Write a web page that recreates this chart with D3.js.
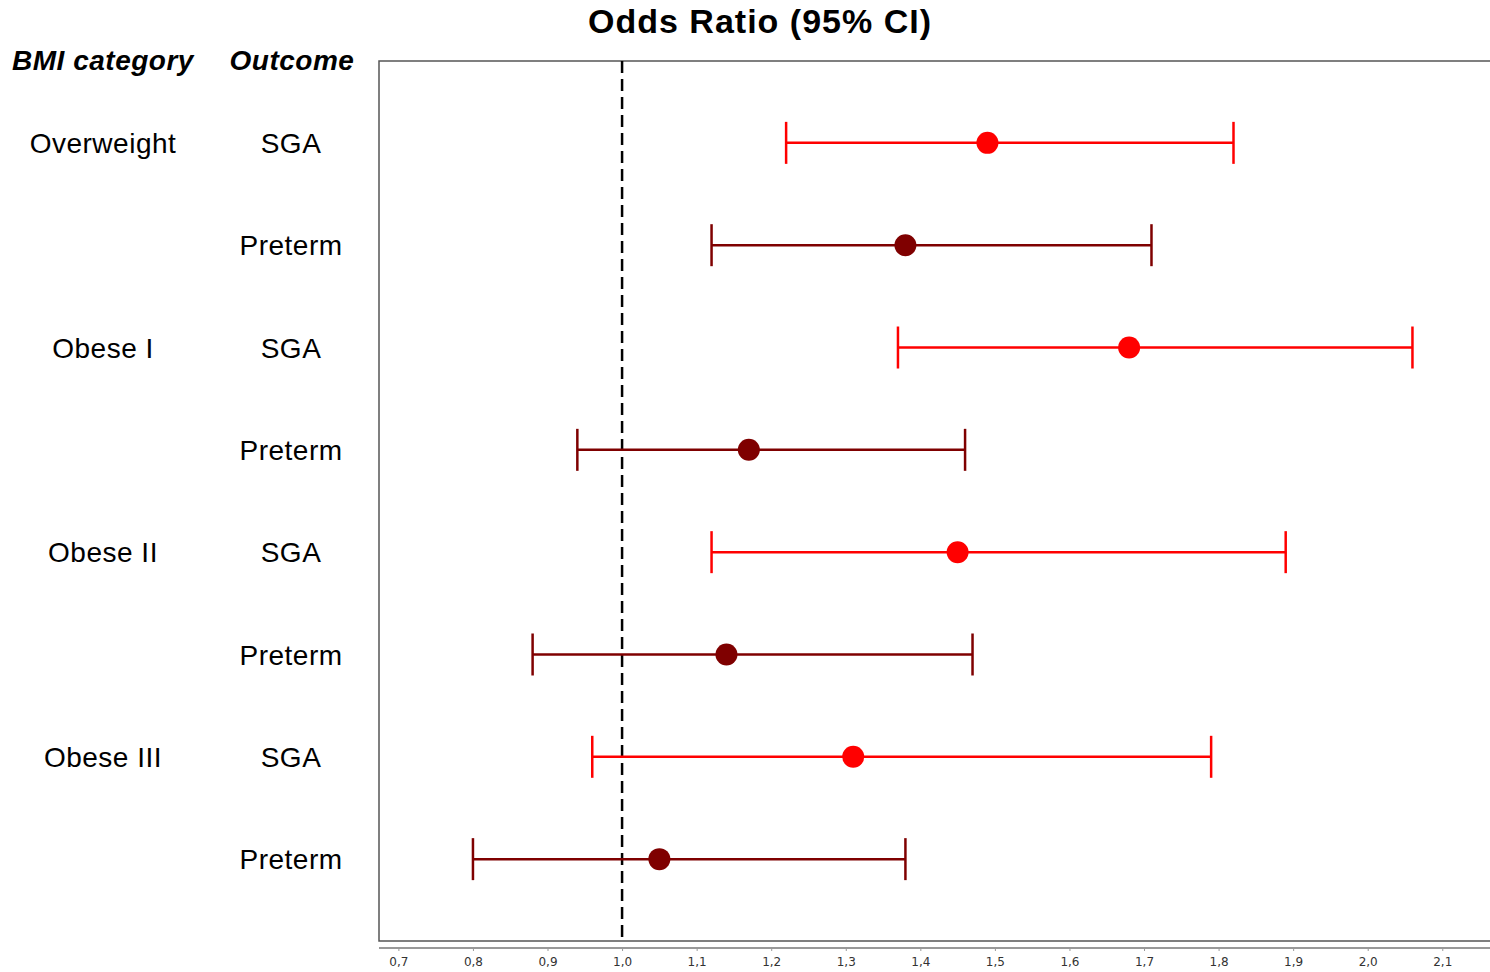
<!DOCTYPE html>
<html>
<head>
<meta charset="UTF-8">
<title>Odds Ratio (95% CI)</title>
<script src="https://cdnjs.cloudflare.com/ajax/libs/d3/7.8.5/d3.min.js"></script>
<style>
html, body { margin: 0; padding: 0; background: #fff; }
svg { display: block; font-family: "Liberation Sans", Arial, sans-serif; }
</style>
</head>
<body>
<script>
// values
var bmi      = ["Overweight", "", "Obese I", "", "Obese II", "", "Obese III", ""];
var outcome  = ["SGA", "Preterm", "SGA", "Preterm", "SGA", "Preterm", "SGA", "Preterm"];
var oddsRatio = [1.49, 1.38, 1.68, 1.17, 1.45, 1.14, 1.31, 1.05];
var ciLow     = [1.22, 1.12, 1.37, 0.94, 1.12, 0.88, 0.96, 0.80];
var ciHigh    = [1.82, 1.71, 2.06, 1.46, 1.89, 1.47, 1.79, 1.38];
var tickValues = [0.7, 0.8, 0.9, 1.0, 1.1, 1.2, 1.3, 1.4, 1.5, 1.6, 1.7, 1.8, 1.9, 2.0, 2.1];

var colour = {SGA: "#ff0000", Preterm: "#7f0000"};

var width = 1490, height = 972;
var box = {left: 379, top: 61, bottom: 941};

var svg = d3.select("body").append("svg")
    .attr("width", width)
    .attr("height", height);

var rows = d3.range(outcome.length);

var x = d3.scaleLinear()
    .domain([0.674, 2.164])
    .range([box.left, width]);

var y = d3.scalePoint()
    .domain(rows)
    .range([box.top, box.bottom])
    .padding(0.8);

// title
svg.append("text")
    .attr("x", 760)
    .attr("y", 33)
    .attr("text-anchor", "middle")
    .attr("font-size", 34)
    .attr("font-weight", "bold")
    .attr("letter-spacing", 1)
    .text("Odds Ratio (95% CI)");

// column headers
svg.append("text")
    .attr("x", 103).attr("y", 70)
    .attr("text-anchor", "middle")
    .attr("font-size", 28)
    .attr("font-weight", "bold")
    .attr("font-style", "italic")
    .attr("letter-spacing", 0.5)
    .text("BMI category");

svg.append("text")
    .attr("x", 292).attr("y", 70)
    .attr("text-anchor", "middle")
    .attr("font-size", 28)
    .attr("font-weight", "bold")
    .attr("font-style", "italic")
    .attr("letter-spacing", 0.5)
    .text("Outcome");

// plot box (right side runs off the picture)
svg.append("path")
    .attr("d", "M" + (width + 5) + "," + box.top + "H" + box.left + "V" + box.bottom + "H" + (width + 5))
    .attr("fill", "none")
    .attr("stroke", "#555")
    .attr("stroke-width", 1.5);

// x axis
var axis = svg.append("g")
    .attr("transform", "translate(0," + (box.bottom + 7) + ")")
    .call(d3.axisBottom(x)
        .tickValues(tickValues)
        .tickSize(3)
        .tickFormat(function(d) { return d3.format(".1f")(d).replace(".", ","); }));
axis.select(".domain")
    .attr("stroke", "#999")
    .attr("stroke-width", 2)
    .attr("d", "M" + box.left + ",0H" + width);
axis.selectAll(".tick line").attr("stroke", "#999");
axis.selectAll(".tick text")
    .attr("font-size", 12)
    .attr("font-family", "'DejaVu Sans', sans-serif")
    .attr("fill", "#333")
    .attr("y", 9);

// reference line at 1
svg.append("line")
    .attr("x1", x(1)).attr("x2", x(1))
    .attr("y1", box.top).attr("y2", box.bottom)
    .attr("stroke", "#000")
    .attr("stroke-width", 2.5)
    .attr("stroke-dasharray", "12,6");

// row labels
svg.append("g").selectAll("text")
    .data(rows)
    .join("text")
    .attr("x", 103)
    .attr("y", function(i) { return y(i); })
    .attr("dy", "0.36em")
    .attr("text-anchor", "middle")
    .attr("font-size", 28)
    .attr("letter-spacing", 0.5)
    .text(function(i) { return bmi[i]; });

svg.append("g").selectAll("text")
    .data(rows)
    .join("text")
    .attr("x", 291)
    .attr("y", function(i) { return y(i); })
    .attr("dy", "0.36em")
    .attr("text-anchor", "middle")
    .attr("font-size", 28)
    .attr("letter-spacing", 0.5)
    .text(function(i) { return outcome[i]; });

// error bars
var bars = svg.append("g").selectAll("g")
    .data(rows)
    .join("g")
    .attr("stroke", function(i) { return colour[outcome[i]]; })
    .attr("stroke-width", 2.5);

bars.append("line")
    .attr("x1", function(i) { return x(ciLow[i]); })
    .attr("x2", function(i) { return x(ciHigh[i]); })
    .attr("y1", function(i) { return y(i); })
    .attr("y2", function(i) { return y(i); });

bars.append("line")
    .attr("x1", function(i) { return x(ciLow[i]); })
    .attr("x2", function(i) { return x(ciLow[i]); })
    .attr("y1", function(i) { return y(i) - 21; })
    .attr("y2", function(i) { return y(i) + 21; });

bars.append("line")
    .attr("x1", function(i) { return x(ciHigh[i]); })
    .attr("x2", function(i) { return x(ciHigh[i]); })
    .attr("y1", function(i) { return y(i) - 21; })
    .attr("y2", function(i) { return y(i) + 21; });

// point estimates
svg.append("g").selectAll("circle")
    .data(rows)
    .join("circle")
    .attr("cx", function(i) { return x(oddsRatio[i]); })
    .attr("cy", function(i) { return y(i); })
    .attr("r", 11)
    .attr("fill", function(i) { return colour[outcome[i]]; });
</script>
</body>
</html>
